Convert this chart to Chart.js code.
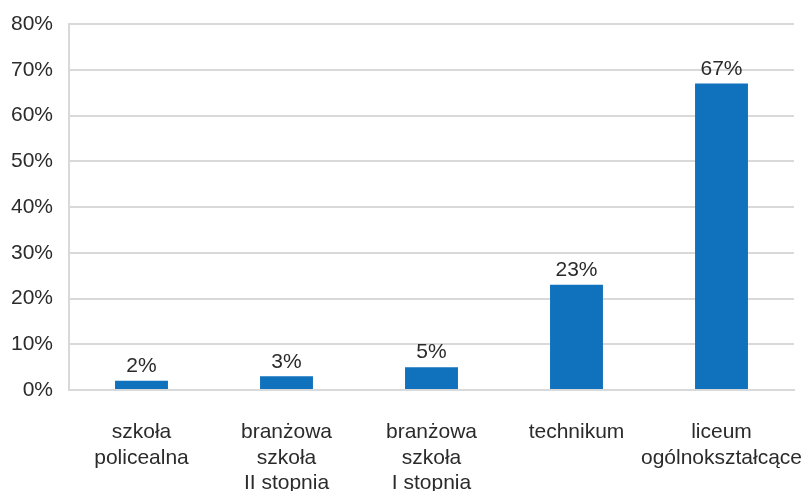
<!DOCTYPE html>
<html lang="pl">
<head>
    <meta charset="UTF-8">
    <title>Typ szkoły</title>
    <script src="https://cdn.jsdelivr.net/npm/chart.js"></script>
    <style>
        body { margin: 0; background: #ffffff; }
    </style>
</head>
<body>
    <canvas id="chart" width="803" height="491"></canvas>
    <script>
        const categories = [
            ["szkoła", "policealna"],
            ["branżowa", "szkoła", "II stopnia"],
            ["branżowa", "szkoła", "I stopnia"],
            ["technikum"],
            ["liceum", "ogólnokształcące"]
        ];
        const values = [2, 3, 5, 23, 67];
        const yTicks = [0, 10, 20, 30, 40, 50, 60, 70, 80];

        const FONT = "'Liberation Sans', Arial, sans-serif";
        const TEXT = "#2b2b2b";

        // etykiety wartości nad słupkami
        const barLabels = {
            id: "barLabels",
            afterDatasetsDraw(chart) {
                const ctx = chart.ctx;
                const meta = chart.getDatasetMeta(0);
                ctx.save();
                ctx.font = "21px " + FONT;
                ctx.fillStyle = TEXT;
                ctx.textAlign = "center";
                ctx.textBaseline = "bottom";
                meta.data.forEach((bar, i) => {
                    ctx.fillText(values[i] + "%", bar.x, bar.y - 4);
                });
                ctx.restore();
            }
        };

        new Chart(document.getElementById("chart"), {
            type: "bar",
            data: {
                labels: categories,
                datasets: [{
                    data: values,
                    backgroundColor: "#1071bd",
                    categoryPercentage: 1,
                    barPercentage: 0.365
                }]
            },
            plugins: [barLabels],
            options: {
                responsive: false,
                animation: false,
                devicePixelRatio: 1,
                layout: { padding: { top: 24, right: 9, left: 0, bottom: 0 } },
                plugins: { legend: { display: false }, tooltip: { enabled: false } },
                scales: {
                    x: {
                        grid: { display: false, drawTicks: false },
                        border: { color: "#d9d9d9", width: 2 },
                        ticks: {
                            color: TEXT,
                            padding: 30,
                            maxRotation: 0,
                            autoSkip: false,
                            font: { family: FONT, size: 21, lineHeight: 1.2 }
                        },
                        afterFit(scale) {
                            scale.height = 101;
                            scale.paddingLeft = 0;
                            scale.paddingRight = 0;
                        }
                    },
                    y: {
                        min: 0,
                        max: 80,
                        afterBuildTicks(scale) { scale.ticks = yTicks.map(v => ({ value: v })); },
                        grid: { color: "#d9d9d9", lineWidth: 2, drawTicks: false },
                        border: { color: "#d9d9d9", width: 2 },
                        ticks: {
                            color: TEXT,
                            padding: 16,
                            callback: v => v + "%",
                            font: { family: FONT, size: 21 }
                        },
                        afterFit(scale) {
                            scale.width = 69;
                            scale.paddingTop = 0;
                            scale.paddingBottom = 0;
                        }
                    }
                }
            }
        });
    </script>
</body>
</html>
